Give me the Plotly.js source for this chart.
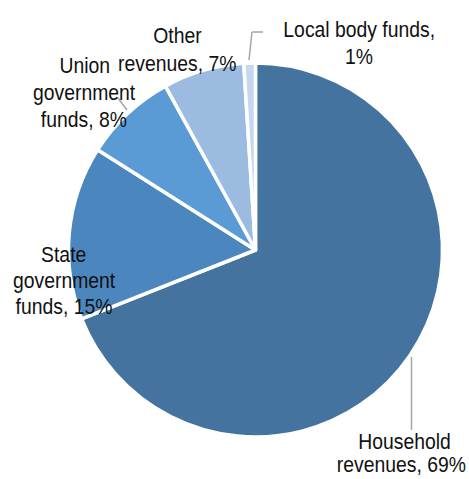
<!DOCTYPE html>
<html>
<head>
<meta charset="utf-8">
<script src="https://cdn.plot.ly/plotly-3.0.1.min.js"></script>
<style>
html,body{margin:0;padding:0;background:#fff;}
#chart{width:469px;height:479px;}
#chart .annotation-text{transform-box:fill-box;transform-origin:center;transform:scaleX(0.88);}
</style>
</head>
<body>
<div id="chart"></div>
<script>
const categories = ["Household revenues", "State government funds", "Union government funds", "Other revenues", "Local body funds"];
const shares = [69, 15, 8, 7, 1];
const sliceColors = ["#44739F", "#4C86BE", "#5B9BD5", "#9BBBE0", "#C5D8EF"];

// label line breaks (text only)
const labelLines = [
  ["Household", "revenues, {v}%"],
  ["State", "government", "funds, {v}%"],
  ["Union", "government", "funds, {v}%"],
  ["Other", "revenues, {v}%"],
  ["Local body funds,", "{v}%"]
];

const W = 469, H = 479;
const px = x => x / W;
const py = y => 1 - y / H;
const cx = 255.5, cy = 250, R = 187;
const FS = 22;

// label block placement: center x per line, first-line baseline, line gap (pixels)
const labelPos = [
  {x: [404, 401.5], y: 449, gap: 23.5},
  {x: [63.5, 63.5, 63.5], y: 262, gap: 26},
  {x: [84, 84, 84], y: 73, gap: 27},
  {x: [177.5, 177.5], y: 43, gap: 28},
  {x: [358.5, 358.5], y: 37, gap: 27}
];

const annotations = [];
categories.forEach((c, i) => {
  labelLines[i].forEach((s, j) => {
    const base = labelPos[i].y + j * labelPos[i].gap;
    annotations.push({
      xref: 'paper', yref: 'paper',
      x: px(labelPos[i].x[j]), y: py(base - 0.35 * FS),
      xanchor: 'center', yanchor: 'middle',
      align: 'center',
      showarrow: false,
      text: s.replace('{v}', shares[i]),
      font: {family: 'Liberation Sans, Arial, sans-serif', size: FS, color: '#111111'}
    });
  });
});

const lineStyle = {color: '#A6A6A6', width: 1.5};
const shapes = [
  {type: 'line', xref: 'paper', yref: 'paper', x0: px(411.5), y0: py(357), x1: px(411.5), y1: py(430), line: lineStyle},
  {type: 'line', xref: 'paper', yref: 'paper', x0: px(249), y0: py(60), x1: px(252), y1: py(32), line: lineStyle},
  {type: 'line', xref: 'paper', yref: 'paper', x0: px(252), y0: py(32), x1: px(263), y1: py(32), line: lineStyle},
  {type: 'line', xref: 'paper', yref: 'paper', x0: px(118), y0: py(98), x1: px(127), y1: py(110), line: lineStyle}
];

const trace = {
  type: 'pie',
  labels: categories,
  values: shares,
  sort: false,
  direction: 'clockwise',
  rotation: 0,
  textinfo: 'none',
  hoverinfo: 'label+percent',
  marker: {colors: sliceColors, line: {color: '#FFFFFF', width: 3.5}},
  domain: {x: [px(cx - R), px(cx + R)], y: [py(cy + R), py(cy - R)]},
  showlegend: false
};

const layout = {
  width: W, height: H,
  margin: {l: 0, r: 0, t: 0, b: 0},
  paper_bgcolor: '#FFFFFF',
  showlegend: false,
  annotations: annotations,
  shapes: shapes
};

Plotly.newPlot('chart', [trace], layout, {displayModeBar: false, staticPlot: true});
</script>
</body>
</html>
